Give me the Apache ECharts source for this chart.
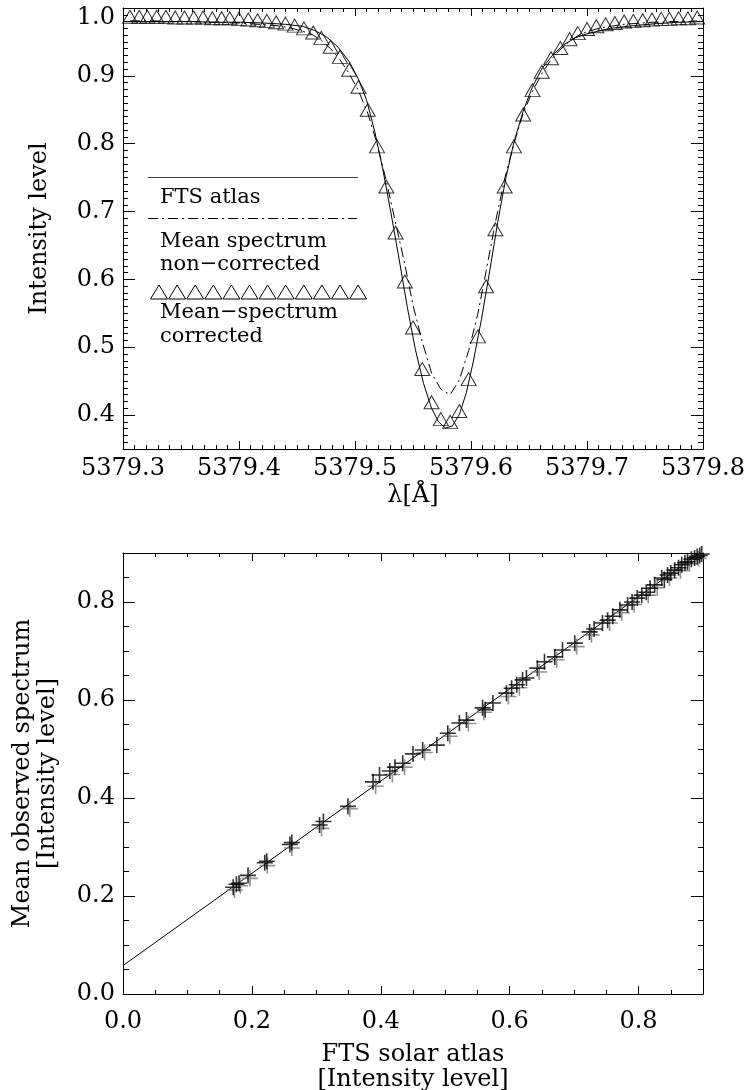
<!DOCTYPE html>
<html><head><meta charset="utf-8">
<script src="https://cdn.jsdelivr.net/npm/echarts@6/dist/echarts.min.js"></script>
<style>html,body{margin:0;padding:0;background:#fff}#c{width:750px;height:1090px}</style>
</head><body><div id="c"></div>
<script>
// ---------- top panel data ----------
const lambdaObs = [5379.306,5379.314,5379.321,5379.329,5379.337,5379.345,5379.353,5379.361,5379.369,5379.377,
  5379.385,5379.392,5379.400,5379.408,5379.416,5379.424,5379.432,5379.440,5379.448,5379.456,
  5379.464,5379.471,5379.479,5379.487,5379.495,5379.503,5379.511,5379.519,5379.527,5379.535,
  5379.543,5379.550,5379.558,5379.566,5379.574,5379.582,5379.590,5379.598,5379.606,5379.613,
  5379.621,5379.629,5379.637,5379.645,5379.653,5379.661,5379.669,5379.677,5379.685,5379.692,
  5379.700,5379.708,5379.716,5379.724,5379.732,5379.740,5379.748,5379.756,5379.764,5379.771,
  5379.779,5379.787,5379.795];
const meanCorrected = [0.987,0.987,0.987,0.987,0.987,0.986,0.986,0.986,0.986,0.985,
  0.985,0.985,0.984,0.983,0.982,0.981,0.979,0.977,0.974,0.970,
  0.964,0.956,0.943,0.928,0.909,0.884,0.850,0.796,0.737,0.669,
  0.597,0.529,0.468,0.419,0.394,0.390,0.406,0.453,0.516,0.590,
  0.674,0.737,0.796,0.843,0.879,0.906,0.926,0.941,0.954,0.963,
  0.969,0.973,0.976,0.978,0.980,0.981,0.982,0.983,0.984,0.984,
  0.985,0.985,0.986];
const meanNonCorrected = [0.981,0.981,0.981,0.981,0.980,0.980,0.980,0.980,0.979,0.979,
  0.979,0.978,0.978,0.977,0.976,0.975,0.974,0.972,0.969,0.965,
  0.960,0.952,0.940,0.924,0.903,0.878,0.845,0.800,0.745,0.683,
  0.622,0.562,0.508,0.462,0.438,0.430,0.452,0.495,0.550,0.612,
  0.684,0.748,0.800,0.845,0.877,0.903,0.924,0.939,0.951,0.959,
  0.965,0.969,0.972,0.974,0.976,0.977,0.978,0.979,0.979,0.980,
  0.980,0.980,0.981];
const ftsLambda = [5379.300,5379.320,5379.340,5379.360,5379.380,5379.400,5379.420,5379.440,
  5379.455,5379.465,5379.475,5379.485,5379.495,5379.503,5379.510,5379.517,5379.524,5379.531,
  5379.538,5379.545,5379.552,5379.559,5379.566,5379.572,5379.578,5379.584,5379.590,5379.596,
  5379.602,5379.609,5379.616,5379.623,5379.630,5379.637,5379.645,5379.653,5379.661,5379.670,
  5379.680,5379.690,5379.700,5379.720,5379.740,5379.760,5379.780,5379.800];
const ftsAtlas = [0.980,0.980,0.980,0.980,0.979,0.979,0.978,0.976,
  0.973,0.967,0.958,0.943,0.921,0.895,0.864,0.818,0.762,0.698,
  0.630,0.560,0.497,0.447,0.410,0.390,0.381,0.384,0.401,0.433,
  0.479,0.541,0.611,0.684,0.749,0.802,0.848,0.884,0.910,0.930,
  0.946,0.956,0.962,0.970,0.974,0.977,0.979,0.980];
const topXTicks = [5379.3,5379.4,5379.5,5379.6,5379.7,5379.8];
const topYTicks = [0.4,0.5,0.6,0.7,0.8,0.9,1.0];

// ---------- bottom panel data ----------
const atlasBlack = [0.171,0.176,0.180,0.194,0.220,0.223,0.259,0.262,0.305,0.311,0.349,0.388,0.398,0.414,0.422,
  0.434,0.450,0.465,0.487,0.504,0.522,0.533,0.558,0.562,0.574,0.595,0.603,0.611,0.620,0.626,0.643,0.654,
  0.670,0.682,0.701,0.724,0.731,0.744,0.752,0.760,0.771,0.783,0.790,0.798,0.805,0.812,0.818,0.825,0.836,
  0.840,0.845,0.850,0.856,0.862,0.867,0.872,0.876,0.882,0.887,0.891,0.895,0.898];
const observedBlack = [0.218,0.224,0.226,0.242,0.268,0.271,0.305,0.309,0.345,0.352,0.383,0.433,0.447,0.455,0.463,
  0.471,0.490,0.498,0.508,0.532,0.553,0.559,0.584,0.580,0.594,0.614,0.624,0.631,0.641,0.645,0.665,0.678,
  0.688,0.702,0.716,0.739,0.745,0.757,0.763,0.771,0.784,0.794,0.800,0.808,0.814,0.820,0.828,0.835,0.849,
  0.846,0.855,0.859,0.865,0.870,0.876,0.880,0.882,0.887,0.890,0.893,0.895,0.898];
const atlasGrey = [0.173,0.182,0.197,0.224,0.262,0.308,0.352,0.392,0.418,0.437,0.468,0.507,0.536,0.560,0.598,
  0.615,0.646,0.673,0.704,0.727,0.755,0.774,0.793,0.815,0.829,0.848,0.865,0.879,0.893];
const observedGrey = [0.212,0.221,0.236,0.262,0.298,0.338,0.378,0.424,0.448,0.463,0.493,0.526,0.552,0.575,0.607,
  0.625,0.657,0.682,0.709,0.733,0.757,0.778,0.795,0.814,0.829,0.849,0.864,0.878,0.889];
const fitX = [0.0, 0.9];
const fitY = [0.058, 0.905];
const botTicks = [0.0,0.2,0.4,0.6,0.8];

// ---------- helpers ----------
const FONT = 'DejaVu Serif';
const BLACK = '#000';
const zip = (a, b) => a.map((v, i) => [v, b[i]]);
const fmtFrom = (list) => (v) => {
  for (const t of list) if (Math.abs(v - t) < 1e-6) return t.toFixed(1);
  return '';
};
const txt = (size) => ({fontFamily: FONT, fontSize: size, color: BLACK});

function axisPair(dim, grid, pos, min, max, majorCfg, minorInt, majorLen, minorLen, label, name) {
  const major = Object.assign({
    type: 'value', gridIndex: grid, position: pos, min: min, max: max,
    axisLine: {show: true, onZero: false, lineStyle: {color: BLACK, width: 1}},
    axisTick: {show: true, inside: true, length: majorLen, lineStyle: {color: BLACK, width: 1}},
    axisLabel: label || {show: false},
    splitLine: {show: false}, minorTick: {show: false}
  }, majorCfg, name || {});
  const minor = {
    type: 'value', gridIndex: grid, position: pos, min: min, max: max, interval: minorInt,
    axisLine: {show: false, onZero: false},
    axisTick: {show: true, inside: true, length: minorLen, lineStyle: {color: BLACK, width: 1}},
    axisLabel: {show: false}, splitLine: {show: false}
  };
  return [major, minor];
}

const topYLabel = {
  show: true, margin: 8, ...txt(24),
  formatter: (v) => {
    const s = fmtFrom(topYTicks)(v);
    return Math.abs(v - 1.0) < 1e-6 ? '{d|' + s + '}' : s;
  },
  rich: {d: {...txt(24), padding: [20, 0, 0, 0]}}
};
const topXLabel = {show: true, margin: 7, lineHeight: 26, ...txt(24), formatter: fmtFrom(topXTicks)};
const botXLabel = {show: true, margin: 15, lineHeight: 26, ...txt(24), formatter: fmtFrom(botTicks)};
const botYLabel = {show: true, margin: 8, ...txt(24), formatter: fmtFrom(botTicks)};

const xAxes = [
  ...axisPair('x', 0, 'bottom', 5379.3, 5379.8, {interval: 0.1}, 0.01, 8, 4, topXLabel,
    {name: 'λ[Å]', nameLocation: 'middle', nameGap: 22, nameTextStyle: {...txt(24), lineHeight: 26}}),
  ...axisPair('x', 0, 'top', 5379.3, 5379.8, {interval: 0.1}, 0.01, 8, 4, null),
  ...axisPair('x', 1, 'bottom', 0, 0.9, {interval: 0.2}, 0.05, 8, 4, botXLabel,
    {name: 'FTS solar atlas\n[Intensity level]', nameLocation: 'middle', nameGap: 48,
     nameTextStyle: {...txt(24), lineHeight: 25}}),
  ...axisPair('x', 1, 'top', 0, 0.9, {interval: 0.2}, 0.05, 8, 4, null)
];
const yAxes = [
  ...axisPair('y', 0, 'left', 0.35, 1.0, {splitNumber: 6}, 0.01, 12, 5, topYLabel,
    {name: 'Intensity level', nameLocation: 'middle', nameGap: 70, nameTextStyle: {...txt(24), lineHeight: 26}}),
  ...axisPair('y', 0, 'right', 0.35, 1.0, {splitNumber: 6}, 0.01, 12, 5, null),
  ...axisPair('y', 1, 'left', 0, 0.9, {interval: 0.2}, 0.05, 12, 6, botYLabel,
    {name: 'Mean observed spectrum\n[Intensity level]', nameLocation: 'middle', nameGap: 63,
     nameTextStyle: {...txt(24), lineHeight: 25}}),
  ...axisPair('y', 1, 'right', 0, 0.9, {interval: 0.2}, 0.05, 12, 5, null)
];

const plusPath = 'path://M8,0 L8,16 M0,8 L16,8';

// ---------- legend graphics ----------
const legend = [];
legend.push({type: 'line', shape: {x1: 148, y1: 177.5, x2: 358, y2: 177.5}, style: {stroke: '#444', lineWidth: 1}});
legend.push({type: 'line', shape: {x1: 148, y1: 218.5, x2: 357, y2: 218.5}, style: {stroke: BLACK, lineWidth: 1, lineDash: [10, 4, 2, 4]}});
const legendTexts = [['FTS atlas', 198], ['Mean spectrum', 242], ['non−corrected', 265], ['Mean−spectrum', 313], ['corrected', 337]];
legendTexts.forEach(([t, y]) => legend.push({
  type: 'text', x: 160, y: y,
  style: {text: t, font: '21px "DejaVu Serif"', fill: BLACK, align: 'left', verticalAlign: 'middle',
          textAlign: 'left', textVerticalAlign: 'middle'}
}));
for (let i = 0; i < 12; i++) {
  const cx = 159 + i * 18.1, cy = 292;
  legend.push({type: 'polygon', shape: {points: [[cx - 8.5, cy + 7], [cx + 8.5, cy + 7], [cx, cy - 7]]},
    style: {fill: 'none', stroke: BLACK, lineWidth: 1}});
}

const option = {
  animation: false,
  backgroundColor: '#fff',
  grid: [
    {left: 123, top: 8, width: 580, height: 441, containLabel: false, outerBoundsMode: 'none'},
    {left: 123, top: 553, width: 580, height: 441, containLabel: false, outerBoundsMode: 'none'}
  ],
  xAxis: xAxes,
  yAxis: yAxes,
  graphic: legend,
  series: [
    {type: 'line', xAxisIndex: 0, yAxisIndex: 0, data: zip(ftsLambda, ftsAtlas), showSymbol: false,
     lineStyle: {color: BLACK, width: 1}, silent: true, z: 3},
    {type: 'line', xAxisIndex: 0, yAxisIndex: 0, data: zip(lambdaObs, meanNonCorrected), showSymbol: false,
     lineStyle: {color: BLACK, width: 1, type: [10, 4, 2, 4]}, silent: true, z: 3},
    {type: 'scatter', xAxisIndex: 0, yAxisIndex: 0, data: zip(lambdaObs, meanCorrected), symbol: 'triangle',
     symbolSize: [15, 13], itemStyle: {color: 'rgba(0,0,0,0)', borderColor: BLACK, borderWidth: 1}, silent: true, z: 4},
    {type: 'line', xAxisIndex: 4, yAxisIndex: 4, data: zip(fitX, fitY), showSymbol: false,
     lineStyle: {color: BLACK, width: 1}, silent: true, z: 3},
    {type: 'scatter', xAxisIndex: 4, yAxisIndex: 4, data: zip(atlasGrey, observedGrey), symbol: plusPath,
     symbolSize: 16, itemStyle: {color: 'rgba(0,0,0,0)', borderColor: '#777', borderWidth: 1.6}, silent: true, z: 4},
    {type: 'scatter', xAxisIndex: 4, yAxisIndex: 4, data: zip(atlasBlack, observedBlack), symbol: plusPath,
     symbolSize: 16, itemStyle: {color: 'rgba(0,0,0,0)', borderColor: BLACK, borderWidth: 1.6}, silent: true, z: 5}
  ]
};
const chart = echarts.init(document.getElementById('c'), null, {renderer: 'canvas'});
chart.setOption(option);
</script></body></html>
